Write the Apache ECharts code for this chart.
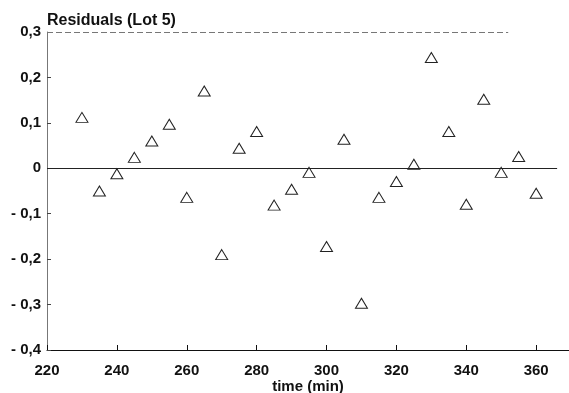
<!DOCTYPE html>
<html><head><meta charset="utf-8">
<script src="https://cdn.jsdelivr.net/npm/echarts@6/dist/echarts.min.js"></script>
<style>html,body{margin:0;padding:0;background:#fff}#c{width:569px;height:393px}</style>
</head><body><div id="c"></div>
<script>
const times = [230,235,240,245,250,255,260,265,270,275,280,285,290,295,300,305,310,315,320,325,330,335,340,345,350,355,360];
const residuals = [0.112,-0.05,-0.012,0.024,0.06,0.097,-0.064,0.17,-0.19,0.044,0.081,-0.081,-0.046,-0.009,-0.172,0.064,-0.297,-0.064,-0.029,0.009,0.244,0.081,-0.079,0.152,-0.009,0.026,-0.055];
const titleText = 'Residuals (Lot 5)';
const xName = 'time (min)';

const font = 'Liberation Sans, Arial, sans-serif';
const chart = echarts.init(document.getElementById('c'));
chart.setOption({
  animation: false,
  title: [
    {text: titleText, left: 42, top: 8, textStyle: {fontFamily: font, fontSize: 16, fontWeight: 'bold', color: '#111'}}
  ],
  grid: {left: 47, right: 0, top: 32, bottom: 43, outerBoundsMode: 'none', containLabel: false},
  xAxis: {
    type: 'value', min: 220, max: 369.4, interval: 20,
    name: xName, nameLocation: 'middle', nameGap: 29, nameMoveOverlap: false,
    nameTextStyle: {fontFamily: font, fontSize: 15, fontWeight: 'bold', color: '#111'},
    axisLine: {onZero: false, lineStyle: {color: '#111', width: 1}},
    axisTick: {inside: true, length: 5, lineStyle: {color: '#111'}},
    splitLine: {show: false},
    axisLabel: {
      fontFamily: font, fontSize: 15, fontWeight: 'bold', color: '#111', margin: 13,
      formatter: v => (Math.abs(v % 20) < 1e-6 ? String(v) : '')
    }
  },
  yAxis: {
    type: 'value', min: -0.4, max: 0.3, interval: 0.1,
    axisLine: {show: true, onZero: false, lineStyle: {color: '#777', width: 1}},
    axisTick: {show: true, inside: true, length: 4, lineStyle: {color: '#444'}},
    splitLine: {show: false},
    axisLabel: {
      fontFamily: font, fontSize: 15, fontWeight: 'bold', color: '#111', margin: 6,
      formatter: v => {
        const r = Math.round(v * 10) / 10;
        if (r === 0) return '0';
        return (r < 0 ? '- ' : '') + Math.abs(r).toFixed(1).replace('.', ',');
      }
    }
  },
  series: [{
    type: 'scatter',
    data: times.map((t, i) => [t, residuals[i]]),
    symbol: 'triangle',
    symbolSize: [12, 10],
    itemStyle: {color: '#fff', borderColor: '#222', borderWidth: 1, opacity: 1},
    markLine: {
      silent: true, symbol: 'none', label: {show: false},
      data: [
        [{coord: [220, 0], lineStyle: {color: '#222', width: 1, type: 'solid'}}, {coord: [366, 0]}],
        [{coord: [220, 0.3], lineStyle: {color: '#777', width: 1, type: [6, 3]}}, {coord: [352, 0.3]}]
      ]
    },
    z: 3
  }]
});
</script></body></html>
